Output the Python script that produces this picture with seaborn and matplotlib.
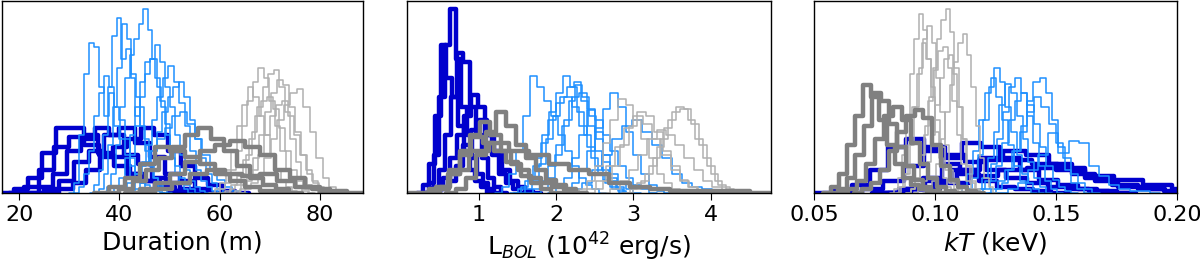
import matplotlib
matplotlib.use("Agg")
import matplotlib.pyplot as plt
import numpy as np
import pandas as pd
import seaborn as sns

# ──────────────────────────────────────────────
# Dados (início do bin, largura do bin, contagens em % da altura)
# ──────────────────────────────────────────────
dur_azul_claro = [
    (31.0, 1.0, [5, 30, 62, 78, 76, 55, 40, 52, 35, 28, 20, 14, 10, 6, 4, 2, 1]),
    (37.5, 0.9, [3, 10, 25, 45, 60, 72, 80, 88, 96, 85, 70, 55, 45, 30, 18, 10, 5, 2]),
    (35.0, 0.9, [4, 12, 30, 55, 82, 91, 70, 75, 60, 40, 45, 28, 15, 8, 3]),
    (40.0, 1.0, [3, 8, 20, 35, 50, 62, 70, 77, 68, 55, 45, 30, 20, 12, 6, 3, 1]),
    (36.0, 0.9, [2, 10, 25, 45, 65, 88, 80, 62, 50, 35, 22, 14, 8, 4, 2]),
    (42.0, 1.1, [2, 6, 14, 25, 38, 50, 60, 66, 58, 47, 35, 22, 12, 6, 3, 1]),
    (32.0, 1.0, [3, 10, 22, 40, 52, 61, 55, 45, 38, 28, 18, 10, 5, 2]),
    (39.0, 1.0, [3, 8, 18, 30, 45, 58, 68, 70, 60, 48, 36, 24, 14, 8, 4, 2]),
    (43.0, 1.1, [2, 5, 12, 22, 32, 42, 50, 55, 58, 50, 38, 28, 18, 10, 5, 2]),
    (40.0, 1.5, [2, 5, 10, 16, 22, 28, 34, 40, 42, 36, 28, 20, 12, 7, 3, 1]),
]
dur_cinza_claro = [
    (60.0, 1.1, [2, 5, 12, 22, 35, 48, 58, 65, 60, 48, 35, 22, 12, 6, 3, 1]),
    (62.0, 1.1, [2, 4, 10, 20, 32, 45, 55, 62, 64, 55, 42, 28, 16, 8, 4, 2]),
    (63.0, 1.2, [1, 4, 9, 18, 30, 42, 52, 59, 56, 45, 32, 20, 10, 5, 2]),
    (65.0, 1.3, [2, 5, 10, 18, 28, 38, 46, 52, 54, 45, 32, 18, 8, 3, 1]),
    (59.0, 1.1, [2, 5, 12, 22, 35, 46, 55, 50, 40, 30, 20, 12, 6, 3, 1]),
    (61.0, 1.2, [1, 4, 9, 17, 28, 40, 48, 50, 44, 34, 22, 12, 6, 2]),
    (64.0, 1.2, [2, 6, 12, 20, 30, 40, 46, 48, 40, 30, 20, 12, 6, 3, 1]),
]
dur_azul_escuro = [
    (19.0, 2.8, [2, 8, 21, 34, 34, 30, 21, 19, 10, 6, 3, 1]),
    (24.0, 2.8, [3, 10, 22, 28, 34, 30, 20, 15, 8, 5, 2]),
    (25.0, 3.0, [2, 6, 16, 22, 30, 34, 26, 19, 10, 6, 2]),
    (28.0, 2.7, [2, 5, 12, 19, 24, 28, 34, 30, 22, 14, 8, 4, 1]),
    (21.0, 3.0, [3, 12, 24, 29, 25, 20, 14, 10, 6, 3, 1]),
]
dur_cinza = [
    (40.0, 2.6, [2, 6, 12, 18, 24, 30, 34, 28, 22, 14, 8, 4, 2]),
    (44.0, 3.0, [2, 5, 10, 16, 22, 25, 27, 24, 20, 12, 8, 3]),
    (38.0, 3.0, [3, 8, 15, 24, 22, 19, 15, 10, 6, 3, 1]),
    (47.0, 3.5, [2, 5, 10, 12, 10, 9, 10, 6, 3, 2, 1]),
]

lum_azul_escuro = [
    (0.35, 0.07, [5, 20, 50, 77, 96, 70, 45, 30, 18, 10, 5, 2]),
    (0.28, 0.075, [4, 15, 40, 77, 60, 50, 35, 22, 12, 6, 3]),
    (0.40, 0.08, [3, 12, 30, 50, 73, 68, 45, 30, 18, 8, 3]),
    (0.45, 0.09, [2, 8, 18, 30, 40, 51, 45, 30, 20, 10, 5, 2]),
    (0.50, 0.10, [2, 6, 14, 25, 33, 38, 30, 22, 12, 6, 3, 1]),
]
lum_cinza = [
    (0.70, 0.13, [2, 8, 20, 32, 42, 35, 25, 18, 12, 7, 4, 2]),
    (0.50, 0.13, [3, 10, 22, 30, 37, 30, 22, 15, 9, 5, 2]),
    (0.45, 0.15, [3, 10, 20, 29, 26, 22, 16, 12, 8, 5, 3, 1]),
    (0.35, 0.26, [2, 12, 22, 26, 22, 20, 15, 12, 10, 5, 3, 2, 1, 1, 1, 1]),
]
lum_azul_claro = [
    (1.30, 0.09, [3, 10, 22, 40, 61, 55, 48, 40, 30, 22, 14, 8, 4, 2]),
    (1.55, 0.09, [3, 8, 18, 30, 42, 52, 61, 55, 42, 30, 18, 10, 5, 2]),
    (1.60, 0.09, [2, 6, 15, 28, 40, 50, 55, 58, 48, 35, 22, 12, 6, 2]),
    (1.70, 0.10, [2, 6, 14, 25, 38, 50, 52, 44, 32, 20, 10, 5, 2]),
    (1.50, 0.10, [2, 6, 14, 26, 38, 47, 50, 45, 35, 24, 14, 7, 3, 1]),
    (2.10, 0.10, [2, 5, 12, 22, 34, 44, 52, 45, 32, 20, 10, 4, 1]),
    (2.00, 0.10, [3, 8, 18, 30, 43, 38, 30, 22, 14, 8, 4, 2]),
    (2.20, 0.13, [2, 5, 12, 20, 28, 35, 38, 32, 25, 18, 10, 5, 3, 2, 1]),
    (1.80, 0.09, [2, 8, 20, 35, 48, 56, 50, 40, 28, 16, 8, 3]),
]
lum_cinza_claro = [
    (2.30, 0.10, [2, 6, 14, 26, 38, 49, 46, 38, 28, 18, 10, 5, 2]),
    (2.95, 0.10, [2, 5, 10, 18, 28, 38, 45, 44, 36, 25, 14, 6, 3, 1]),
    (2.50, 0.11, [2, 6, 14, 25, 35, 42, 40, 32, 22, 14, 7, 3, 1]),
    (2.40, 0.12, [2, 6, 14, 24, 34, 40, 36, 28, 20, 12, 6, 3, 1]),
    (2.70, 0.12, [2, 6, 12, 20, 28, 33, 30, 25, 18, 12, 6, 3, 1]),
    (3.00, 0.10, [2, 6, 14, 24, 34, 42, 44, 38, 28, 18, 10, 4, 2]),
]

kt_cinza = [
    (0.057, 0.0033, [3, 10, 25, 40, 56, 50, 38, 25, 15, 8, 4, 2]),
    (0.060, 0.0035, [2, 8, 20, 35, 52, 48, 36, 24, 14, 7, 3, 1]),
    (0.064, 0.0037, [2, 6, 15, 28, 40, 45, 38, 26, 15, 8, 3, 1]),
    (0.070, 0.0036, [2, 5, 12, 22, 32, 40, 43, 39, 25, 14, 7, 3, 1]),
]
kt_cinza_claro = [
    (0.083, 0.0017, [2, 8, 20, 40, 62, 80, 93, 85, 70, 50, 32, 18, 8, 3]),
    (0.090, 0.0018, [2, 6, 15, 30, 48, 65, 80, 90, 96, 84, 65, 45, 28, 14, 6, 2]),
    (0.097, 0.0018, [2, 6, 15, 28, 42, 56, 68, 78, 83, 72, 55, 35, 18, 8, 3]),
    (0.086, 0.0018, [3, 10, 25, 45, 65, 80, 87, 78, 60, 42, 25, 12, 5, 2]),
    (0.085, 0.0019, [3, 10, 25, 45, 62, 78, 70, 55, 38, 24, 12, 5, 2]),
    (0.090, 0.0019, [2, 8, 20, 35, 50, 64, 74, 76, 65, 48, 30, 15, 6, 2]),
    (0.093, 0.0018, [2, 6, 16, 30, 46, 60, 70, 72, 62, 45, 28, 14, 5, 2]),
]
kt_azul_escuro = [
    (0.058, 0.0075, [1, 4, 12, 24, 28, 22, 15, 10, 6, 3, 2, 1]),
    (0.087, 0.0080, [2, 8, 18, 26, 24, 18, 12, 7, 4, 2, 1]),
    (0.090, 0.0095, [2, 6, 12, 18, 22, 20, 15, 10, 6, 3, 2, 1]),
    (0.085, 0.0110, [2, 6, 12, 17, 17, 15, 13, 8, 4, 2]),
    (0.090, 0.0120, [2, 5, 9, 12, 13, 12, 9, 7, 4, 2]),
    (0.070, 0.0085, [2, 6, 14, 24, 20, 16, 12, 8, 5, 3, 2, 1]),
]
kt_azul_claro = [
    (0.113, 0.0023, [2, 8, 20, 38, 55, 65, 58, 45, 32, 20, 10, 5, 2]),
    (0.118, 0.0025, [2, 6, 15, 28, 42, 55, 60, 52, 40, 26, 14, 6, 2]),
    (0.125, 0.0026, [2, 5, 12, 22, 35, 48, 58, 60, 52, 38, 24, 12, 5, 2]),
    (0.117, 0.0024, [2, 8, 18, 32, 46, 57, 52, 40, 28, 16, 8, 3]),
    (0.111, 0.0024, [3, 10, 22, 38, 52, 60, 50, 38, 25, 14, 6, 2]),
    (0.130, 0.0042, [2, 5, 12, 20, 31, 21, 27, 26, 14, 9, 4, 2, 1, 1]),
    (0.120, 0.0026, [2, 6, 14, 26, 38, 48, 52, 46, 36, 24, 14, 7, 3, 1]),
    (0.123, 0.0030, [2, 6, 12, 22, 32, 42, 50, 45, 36, 26, 18, 10, 5, 2]),
]

# ──────────────────────────────────────────────
# Estilo
# ──────────────────────────────────────────────
AZUL_CLARO = "#1e90ff"
CINZA_CLARO = "#b0b0b0"
AZUL_ESCURO = "#0000cd"
CINZA = "#808080"
LW_FINO = 1.1
LW_GROSSO = 3.2


def _histogramas(ax, grupo, cor, lw):
    """Desenha cada histograma do grupo como contorno em degrau."""
    for inicio, largura, contagens in grupo:
        # bin vazio em cada ponta para fechar o contorno no zero
        alturas = [0.0] + [float(c) for c in contagens] + [0.0]
        bordas = [float(inicio + largura * k) for k in range(-1, len(alturas))]
        centros = [(a + b) / 2 for a, b in zip(bordas[:-1], bordas[1:])]
        df = pd.DataFrame({"x": centros, "w": alturas})
        sns.histplot(data=df, x="x", weights="w", bins=bordas,
                     element="step", fill=False, color=cor,
                     linewidth=lw, ax=ax)


sns.set_style("ticks")
plt.rcParams["font.family"] = ["DejaVu Sans"]
plt.rcParams["text.color"] = "black"
plt.rcParams["axes.labelcolor"] = "black"
plt.rcParams["xtick.color"] = "black"
plt.rcParams["xtick.labelcolor"] = "black"
plt.rcParams["axes.edgecolor"] = "black"

fig = plt.figure(figsize=(12, 2.63), dpi=100)
base, altura = 70 / 263, 192 / 263
ax1 = fig.add_axes([2 / 1200, base, 361 / 1200, altura])
ax2 = fig.add_axes([407 / 1200, base, 364 / 1200, altura])
ax3 = fig.add_axes([814 / 1200, base, 363 / 1200, altura])

_histogramas(ax1, dur_azul_escuro, AZUL_ESCURO, LW_GROSSO)
_histogramas(ax1, dur_azul_claro, AZUL_CLARO, LW_FINO)
_histogramas(ax1, dur_cinza_claro, CINZA_CLARO, LW_FINO)
_histogramas(ax1, dur_cinza, CINZA, LW_GROSSO)

_histogramas(ax2, lum_azul_escuro, AZUL_ESCURO, LW_GROSSO)
_histogramas(ax2, lum_azul_claro, AZUL_CLARO, LW_FINO)
_histogramas(ax2, lum_cinza_claro, CINZA_CLARO, LW_FINO)
_histogramas(ax2, lum_cinza, CINZA, LW_GROSSO)

_histogramas(ax3, kt_azul_escuro, AZUL_ESCURO, LW_GROSSO)
_histogramas(ax3, kt_azul_claro, AZUL_CLARO, LW_FINO)
_histogramas(ax3, kt_cinza_claro, CINZA_CLARO, LW_FINO)
_histogramas(ax3, kt_cinza, CINZA, LW_GROSSO)

ax1.set_xlim(16.55, 88.6)
ax1.set_xticks([20, 40, 60, 80])
ax1.set_xlabel("Duration (m)", fontsize=18, color="black")

ax2.set_xlim(0.07, 4.78)
ax2.set_xticks([1, 2, 3, 4])
ax2.set_xlabel(r"L$_{BOL}$ (10$^{42}$ erg/s)", fontsize=18, color="black")

ax3.set_xlim(0.05, 0.20)
ax3.set_xticks([0.05, 0.10, 0.15, 0.20])
ax3.set_xticklabels(["0.05", "0.10", "0.15", "0.20"])
ax3.set_xlabel(r"$kT$ (keV)", fontsize=18, color="black")

for ax in (ax1, ax2, ax3):
    ax.set_ylim(0, 100)
    ax.set_yticks([])
    ax.set_ylabel("")
    ax.tick_params(axis="x", labelsize=16, length=5, color="black",
                   labelcolor="black")
    for lado in ax.spines.values():
        lado.set_color("black")
        lado.set_linewidth(1.0)

fig.savefig("out.png", dpi=100)
plt.close(fig)
